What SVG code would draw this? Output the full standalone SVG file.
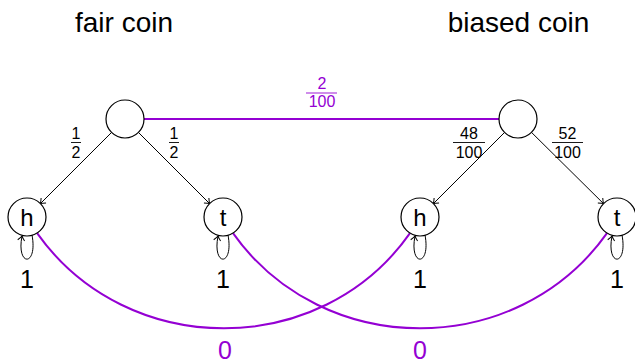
<svg xmlns="http://www.w3.org/2000/svg" width="635" height="361" viewBox="0 0 635 361">
<style>
  text { font-family: "Liberation Sans", Arial, sans-serif; fill: #000; text-anchor: middle; }
  .title { font-size: 28px; }
  .lbl { font-size: 24px; }
  .one { font-size: 25px; }
  .frac { font-size: 16px; }
  .purple { fill: #9400D3; }
  .node { fill: #fff; stroke: #000; stroke-width: 1.2; }
  .edge { fill: none; stroke: #000; stroke-width: 1; marker-end: url(#arr); }
  .pedge { fill: none; stroke: #9400D3; stroke-width: 2; }
  .bar { stroke: #000; stroke-width: 0.9; }
  .pbar { stroke: #9400D3; stroke-width: 0.9; }
</style>
<defs>
  <marker id="arr" viewBox="-6 -5 8 10" refX="0" refY="0" markerWidth="8" markerHeight="10" markerUnits="userSpaceOnUse" orient="auto">
    <path d="M -4.5 -3.5 Q -1.5 -0.8 0 0 Q -1.5 0.8 -4.5 3.5" fill="none" stroke="#000" stroke-width="1"/>
  </marker>
</defs>

<g id="titles">
  <text class="title" x="124" y="32">fair coin</text>
  <text class="title" x="518.5" y="32">biased coin</text>
</g>

<g id="connectors">
  <line class="pedge" x1="144" y1="119" x2="499" y2="119"/>
  <path class="pedge" d="M 37.1 233.1 C 127 360, 321 360, 410 233.1"/>
  <path class="pedge" d="M 233 233.1 C 323 360, 517 360, 607 233.1"/>
  <line class="edge" x1="111.6" y1="132.4" x2="40.4" y2="203.6"/>
  <line class="edge" x1="138.4" y1="132.4" x2="209.6" y2="203.6"/>
  <line class="edge" x1="504.6" y1="132.4" x2="433.4" y2="203.6"/>
  <line class="edge" x1="531.5" y1="132.4" x2="603.5" y2="203.6"/>
  <path class="edge" d="M 32 235 C 38 267, 16 267, 22 236"/>
  <path class="edge" d="M 228 235 C 234 267, 212 267, 218 236"/>
  <path class="edge" d="M 425 235 C 431 267, 409 267, 415 236"/>
  <path class="edge" d="M 622 235 C 628 267, 606 267, 612 236"/>
</g>

<g id="edge-labels">
  <g id="lbl-top">
    <text class="frac purple" x="322" y="89">2</text>
    <line class="pbar" x1="306" y1="93" x2="337" y2="93"/>
    <text class="frac purple" x="322" y="107">100</text>
  </g>
  <g id="lbl-fh">
    <text class="frac" x="76" y="139">1</text>
    <line class="bar" x1="71" y1="142.5" x2="81" y2="142.5"/>
    <text class="frac" x="76" y="158">2</text>
  </g>
  <g id="lbl-ft">
    <text class="frac" x="174" y="139">1</text>
    <line class="bar" x1="169" y1="142.5" x2="179" y2="142.5"/>
    <text class="frac" x="174" y="158">2</text>
  </g>
  <g id="lbl-bh">
    <text class="frac" x="469" y="139">48</text>
    <line class="bar" x1="453" y1="142.5" x2="485" y2="142.5"/>
    <text class="frac" x="469" y="158">100</text>
  </g>
  <g id="lbl-bt">
    <text class="frac" x="567.5" y="139">52</text>
    <line class="bar" x1="552" y1="142.5" x2="583" y2="142.5"/>
    <text class="frac" x="567.5" y="158">100</text>
  </g>
  <text class="one" x="27" y="288">1</text>
  <text class="one" x="223" y="288">1</text>
  <text class="one" x="420" y="288">1</text>
  <text class="one" x="617" y="288">1</text>
  <text class="one purple" x="225" y="359">0</text>
  <text class="one purple" x="420" y="359">0</text>
</g>

<g id="fair">
  <circle class="node" cx="125" cy="119" r="19"/>
</g>
<g id="biased">
  <circle class="node" cx="518" cy="119" r="19"/>
</g>
<g id="fair-h">
  <circle class="node" cx="27" cy="217" r="19"/>
  <text class="lbl" x="27" y="226">h</text>
</g>
<g id="fair-t">
  <circle class="node" cx="223" cy="217" r="19"/>
  <text class="lbl" x="223" y="226">t</text>
</g>
<g id="biased-h">
  <circle class="node" cx="420" cy="217" r="19"/>
  <text class="lbl" x="420" y="226">h</text>
</g>
<g id="biased-t">
  <circle class="node" cx="617" cy="217" r="19"/>
  <text class="lbl" x="617" y="226">t</text>
</g>
</svg>
